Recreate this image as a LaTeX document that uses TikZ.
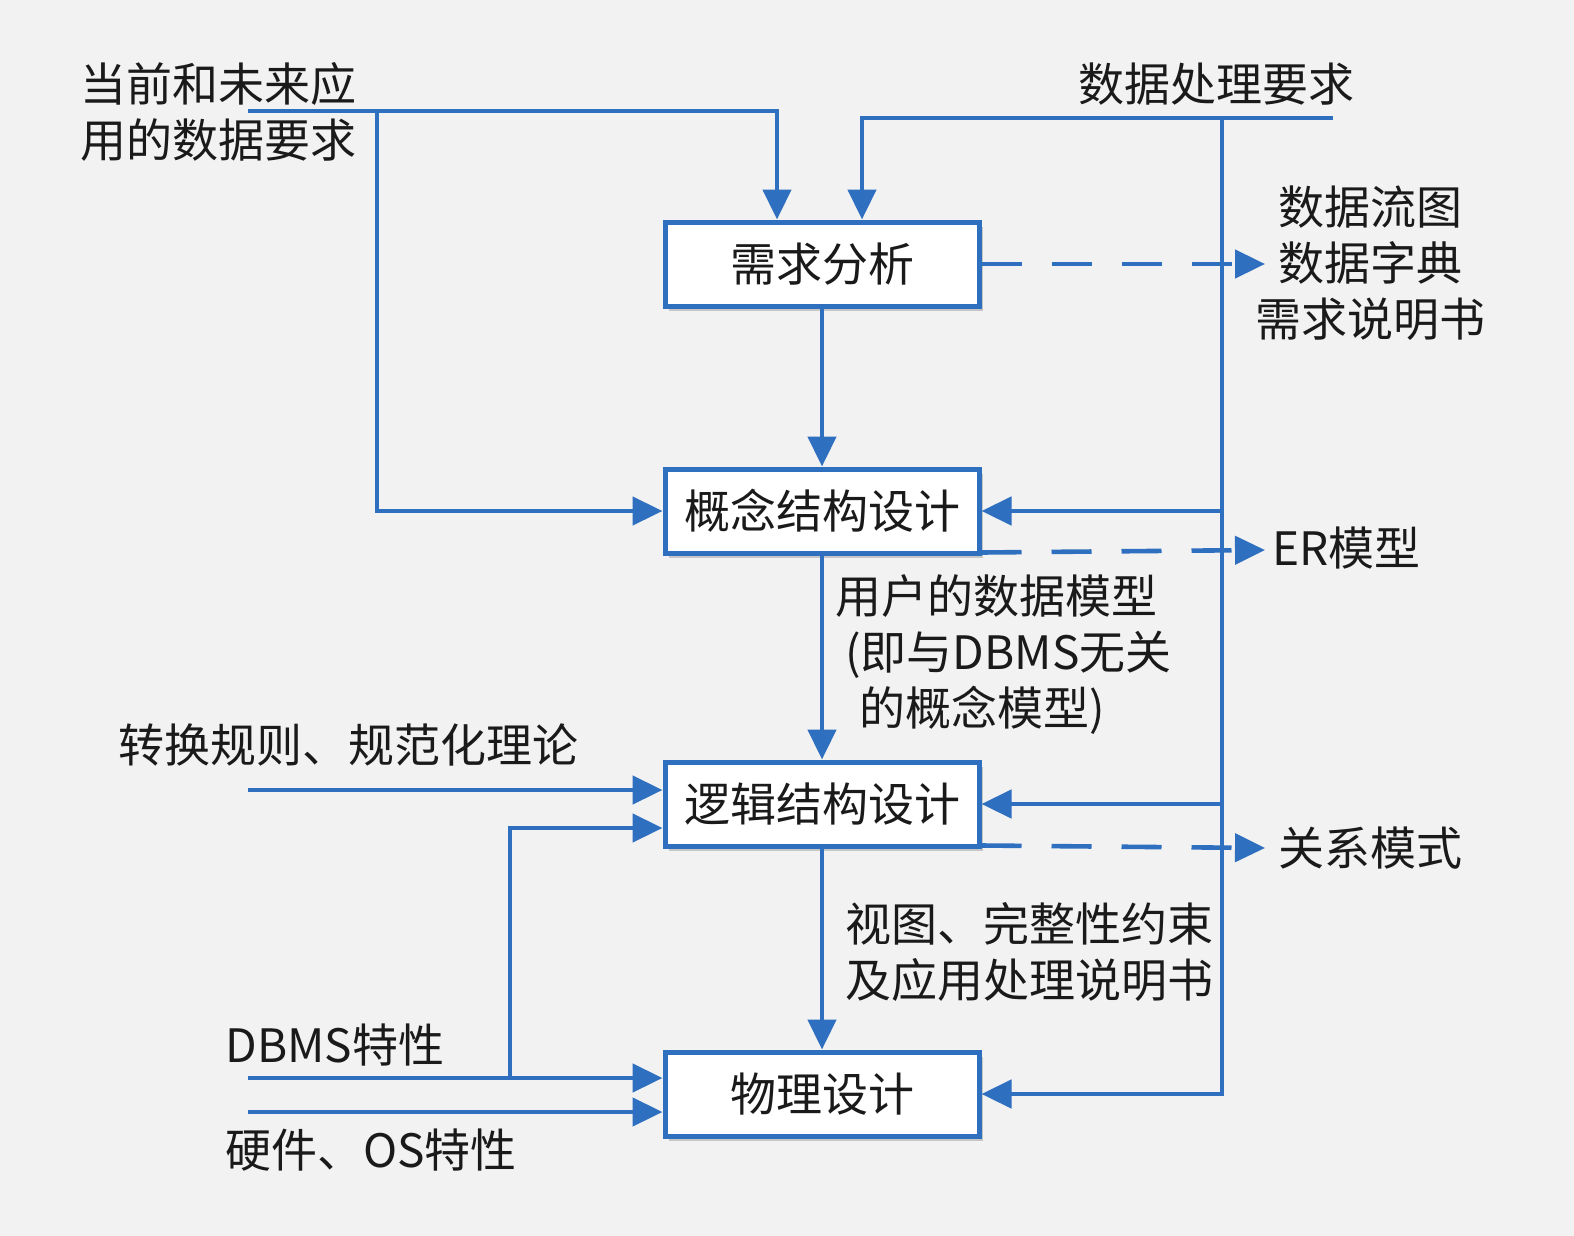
\documentclass[tikz,border=0pt]{standalone}
\usepackage{fontspec}
\setmainfont{Noto Sans CJK SC}
\usetikzlibrary{arrows.meta,calc,shadows}
\definecolor{bg}{HTML}{F2F2F2}
\definecolor{lblue}{HTML}{2E6FC0}
\definecolor{txt}{HTML}{1A1A1A}
\begin{document}
\begin{tikzpicture}[x=0.5pt,y=-0.5pt,
  font=\fontsize{23pt}{28pt}\selectfont, text=txt,
  stage/.style={draw=lblue, line width=2.5pt, fill=white, minimum width=157pt, minimum height=42pt, inner sep=0pt,
    drop shadow={shadow xshift=2pt, shadow yshift=-2.5pt, opacity=0.18, fill=black}},
  lab/.style={inner sep=0pt, anchor=west},
  conn/.style={draw=lblue, line width=2.3pt},
  arr/.style={conn, -{Triangle[length=15pt,width=14pt]}},
  darr/.style={arr, dash pattern=on 20pt off 15pt}]
\fill[bg] (0,0) rectangle (1574,1236);
\useasboundingbox (0,0) rectangle (1574,1236);

% stages
\node[stage] (req) at (822,264) {需求分析};
\node[stage] (con) at (822,511) {概念结构设计};
\node[stage] (log) at (822,804) {逻辑结构设计};
\node[stage] (phy) at (822,1094) {物理设计};

% labels
\node[lab, align=left] (tl) at (80,112) {当前和未来应\\用的数据要求};
\node[inner sep=0pt] (tr) at (1216,84) {数据处理要求};
\node[inner sep=0pt, align=center] (docs) at (1370,263) {数据流图\\数据字典\\需求说明书};
\node[lab] (er) at (1272,548) {ER模型};
\node[lab] (rel) at (1278,848) {关系模式};
\node[lab, align=left] (um) at (835,655) {用户的数据模型\\\hspace{5pt}(即与DBMS无关\\\hspace{12pt}的概念模型)};
\node[lab, align=left] (vw) at (845,952) {视图、完整性约束\\及应用处理说明书};
\node[lab] (rules) at (118,745) {转换规则、规范化理论};
\node[lab] (dbms) at (225,1045) {DBMS特性};
\node[lab] (hw) at (225,1150) {硬件、OS特性};

% free ends
\coordinate (c1) at (248,111);
\coordinate (j1) at (377,111);
\coordinate (c2) at (1333,118);
\coordinate (j2) at (1222,118);
\coordinate (c3) at (248,790);
\coordinate (j3) at (510,1078);
\coordinate (c4) at (248,1078);
\coordinate (c5) at (248,1112);
\coordinate (d1) at (1265,264);
\coordinate (d2) at (1265,550);
\coordinate (d3) at (1265,848);

% inputs from top
\draw[arr] (c1) -| ($(req.north)+(-45,0)$);
\draw[arr] (j1) |- (con.west);
\draw[arr] (c2) -| ($(req.north)+(40,0)$);
\draw[arr] (j2) |- (con.east);
\draw[arr] (j2) |- (log.east);
\draw[arr] (j2) |- (phy.east);

% main flow
\draw[arr] (req) -- (con);
\draw[arr] (con) -- (log);
\draw[arr] (log) -- (phy);

% outputs
\draw[darr] (req.east) -- (d1);
\draw[darr] ($(con.south east)+(0,-3)$) -- (d2);
\draw[darr] ($(log.south east)+(0,-3)$) -- (d3);

% left inputs
\draw[arr] (c3) -- (c3 -| log.west);
\draw[arr] (j3) |- ($(log.west)+(0,24)$);
\draw[arr] (c4) -- (c4 -| phy.west);
\draw[arr] (c5) -- (c5 -| phy.west);
\end{tikzpicture}
\end{document}
